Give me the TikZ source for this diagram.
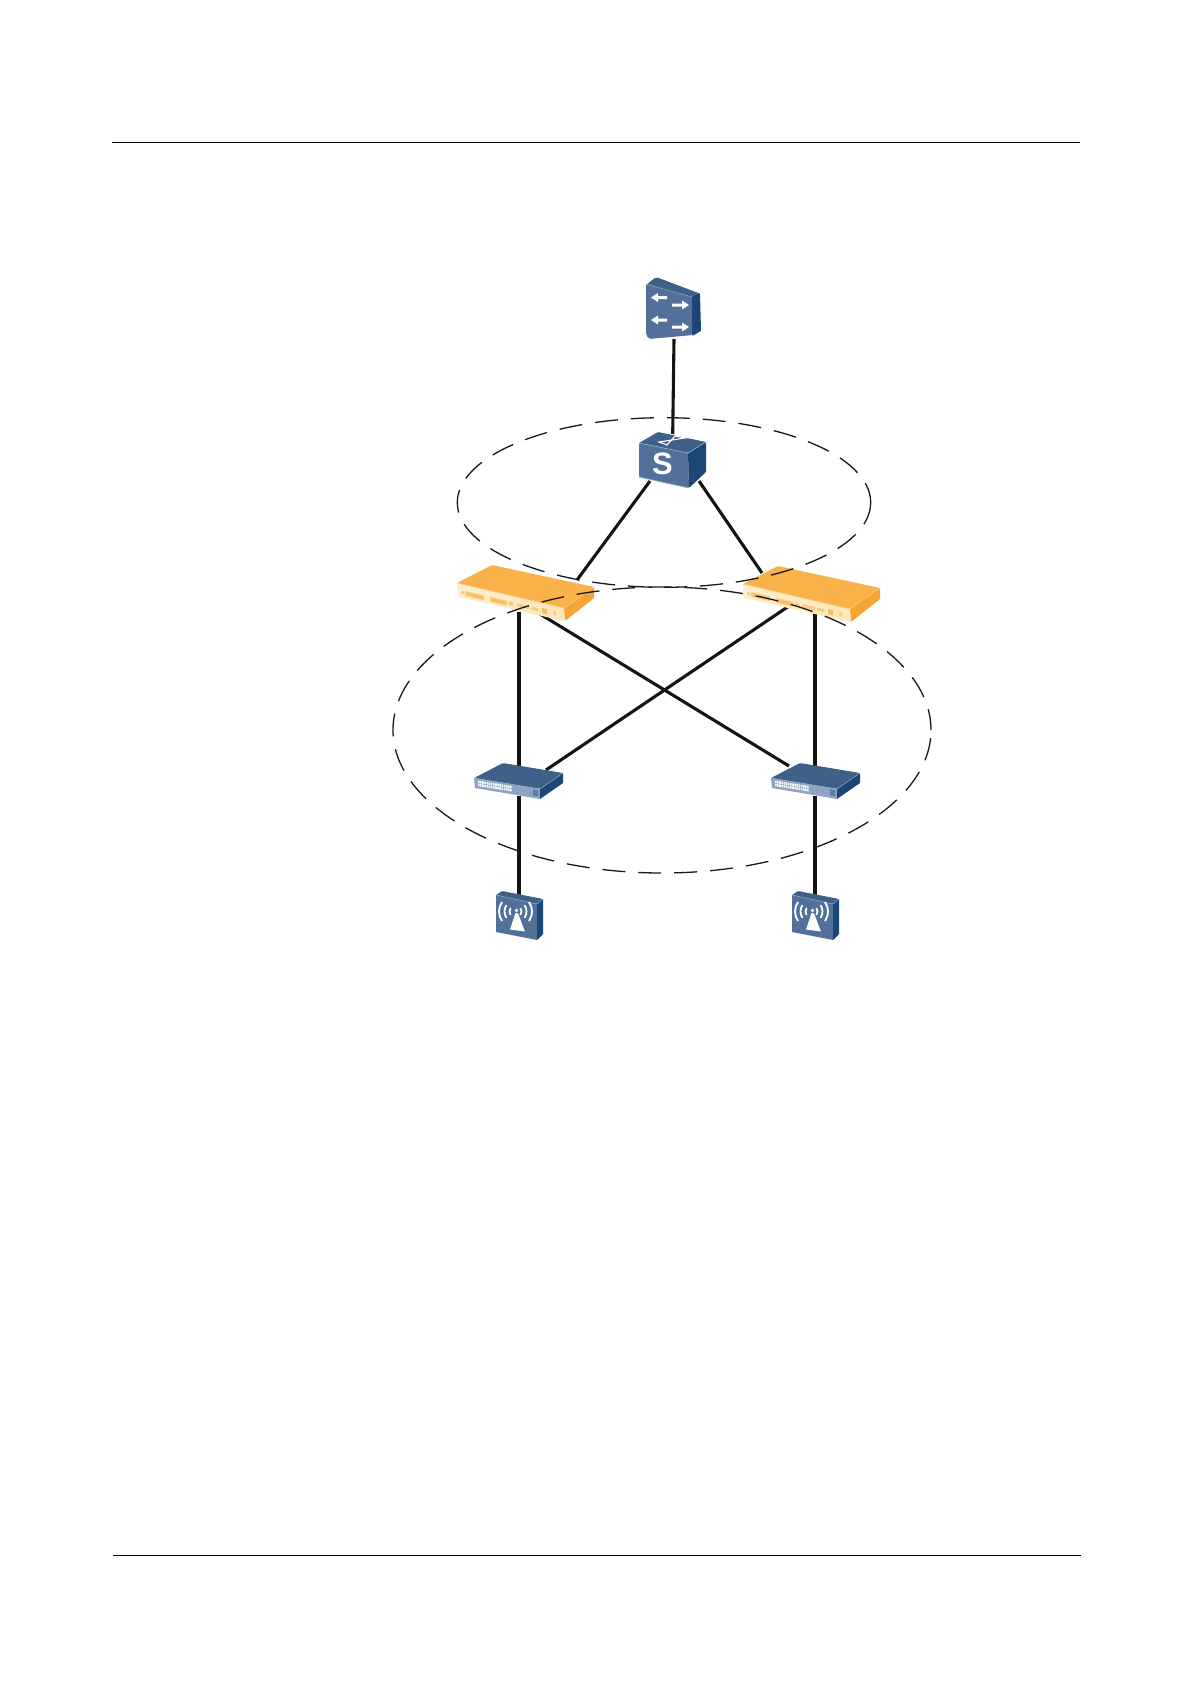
\documentclass[tikz,border=0pt]{standalone}
\usepackage{fontspec}
\setmainfont{Liberation Sans}
\definecolor{bfront}{HTML}{52709A}
\definecolor{btop}{HTML}{3F6089}
\definecolor{bside}{HTML}{1B4675}
\definecolor{bedge}{HTML}{8FA8C4}
\definecolor{otop}{HTML}{F9B149}
\definecolor{ofront}{HTML}{FEF0CE}
\definecolor{oside}{HTML}{F5A533}
\definecolor{oport}{HTML}{F9CB80}
\definecolor{sfront}{HTML}{8DA5C0}
\tikzset{
  rule/.style={line width=0.8pt,black},
  link/.style={line width=3.1pt,color=black!92,line cap=butt},
  zone/.style={line width=1.3pt,black!90},
  orouter/.pic={
    \fill[otop,rounded corners=1.5pt] (0,0) -- (35,-18) -- (137,4) -- (107,25) -- cycle;
    \shade[left color=ofront,right color=ofront!85!otop] (0,0) -- (107,25) -- (107,38) -- (1,14) -- cycle;
    \fill[oside,rounded corners=1pt] (107,25) -- (137,4) -- (137,15) -- (108,38) -- cycle;
    \draw[otop!75!white,line width=0.6pt] (0,0) -- (107,25) -- (137,4);
    \begin{scope}[yslant=-0.236]
      \fill[oport] (4,7) rectangle (7,10);
      \fill[oport] (8,6) rectangle (27,11);
      \fill[otop!85!ofront] (10,7.5) rectangle (25,9.5);
      \fill[oport] (33,6) rectangle (50,11);
      \fill[otop!85!ofront] (35,7.5) rectangle (48,9.5);
      \fill[oport] (52,6) rectangle (56,10);
      \fill[oport] (60,6) rectangle (72,9);
      \fill[oport] (74,6) rectangle (81,9);
      \fill[otop!85!ofront] (85,5) rectangle (90,10);
      \fill[oport] (96,5) rectangle (99,9);
    \end{scope}
  },
  bswitch/.pic={
    \fill[btop,rounded corners=1.5pt] (0,0) -- (29,-15) -- (89,-5) -- (66,11) -- cycle;
    \fill[sfront] (0,0) -- (66,11) -- (66,21) -- (1,10) -- cycle;
    \fill[bside] (66,11) -- (89,-5) -- (89,5) -- (66,21) -- cycle;
    \draw[bedge,line width=0.5pt] (0,0) -- (66,11) -- (89,-5);
    \begin{scope}[yslant=-0.16]
      \foreach \xx in {4,12.6,21.2,29.8} {
        \foreach \dd in {0,2.1,4.2,6.3} {
          \fill[white!90!sfront] (\xx+\dd,1.9) rectangle +(1.6,2.5);
          \fill[white!90!sfront] (\xx+\dd,5.0) rectangle +(1.6,2.5);
        }
      }
      \fill[bfront!80!sfront] (59,2) rectangle (64,8);
    \end{scope}
  },
  apdev/.pic={
    \fill[btop,rounded corners=1pt] (0,0) -- (6,-4) -- (47,4) -- (41,9) -- cycle;
    \fill[bfront] (0,0) -- (41,9) -- (41,45) -- (0,37) -- cycle;
    \fill[bside] (41,9) -- (47,4) -- (47,39) -- (41,45) -- cycle;
    \draw[bedge,line width=0.5pt] (0,0) -- (41,9) -- (47,4);
    \fill[white] (19.5,18) -- (22,18.5) -- (29,36.5) -- (14,34.5) -- cycle;
    \fill[white] (20.5,15.5) circle (1.8);
    \foreach \rr in {6,11,16.5} {
      \draw[white,line width=1.8pt] (19.5,16.5) ++(145:\rr) arc (145:215:\rr);
      \draw[white,line width=1.8pt] (19.5,16.5) ++(35:\rr) arc (35:-35:\rr);
    }
  }
}
\begin{document}
\begin{tikzpicture}[x=1pt,y=-1pt]
\useasboundingbox (0,0) rectangle (1191,1684);
\fill[white] (0,0) rectangle (1191,1684);
% page rules
\coordinate (hl) at (112,142.5); \coordinate (hr) at (1080,142.5);
\coordinate (fl) at (113,1555.5); \coordinate (fr) at (1081,1555.5);
\draw[rule] (hl) -- (hr);
\draw[rule] (fl) -- (fr);
% connector ends
\coordinate (coreS) at (674,339);
\coordinate (sTop) at (672.7,434);
\coordinate (sL) at (650,481);
\coordinate (sR) at (699,481);
\coordinate (rLtop) at (577,580);
\coordinate (rRtop) at (762,573);
\coordinate (rLv) at (519,612);
\coordinate (rRv) at (815,612);
\coordinate (rLx) at (540,614);
\coordinate (rRx) at (789,606);
\coordinate (swLv) at (519,767);
\coordinate (swRv) at (815,767);
\coordinate (swLx) at (546,770);
\coordinate (swRx) at (789,766);
\coordinate (swLd) at (519,796);
\coordinate (swRd) at (815,796);
\coordinate (apL) at (519,895);
\coordinate (apR) at (815,895);
% links
\draw[link] (coreS) -- (sTop);
\draw[link] (rLv) -- (swLv);
\draw[link] (rRv) -- (swRv);
\draw[link] (rLx) -- (swRx);
\draw[link] (rRx) -- (swLx);
\draw[link] (swLd) -- (apL);
\draw[link] (swRd) -- (apR);
% core device
\fill[btop,rounded corners=2pt] (646,285) -- (656,277) -- (701,294) -- (692,298) -- cycle;
\fill[bfront,rounded corners=2pt] (646,284) -- (646,335) -- (649,339) -- (693,335) -- (693,297) -- cycle;
\fill[bside,rounded corners=1pt] (692,297) -- (700,293) -- (701,331) -- (692,336) -- cycle;
\draw[bedge,line width=0.5pt] (646,284) -- (692,297);
\foreach \ya/\xa/\xb in {297.5/667/658,320/667/658} {
  \fill[white] (\xa,\ya-1.5) -- (\xb,\ya-1.5) -- (\xb,\ya-4.5) -- (\xb-7,\ya) -- (\xb,\ya+4.5) -- (\xb,\ya+1.5) -- (\xa,\ya+1.5) -- cycle;
}
\foreach \ya/\xa/\xb in {305/672/682,327/672/682} {
  \fill[white] (\xa,\ya-1.5) -- (\xb,\ya-1.5) -- (\xb,\ya-4.5) -- (\xb+7,\ya) -- (\xb,\ya+4.5) -- (\xb,\ya+1.5) -- (\xa,\ya+1.5) -- cycle;
}
% S switch
\fill[btop,rounded corners=1pt] (639,443) -- (658,432) -- (706,442) -- (688,453) -- cycle;
\fill[bfront,rounded corners=1pt] (639,443) -- (688,453) -- (689,488) -- (639,477) -- cycle;
\fill[bside,rounded corners=1pt] (688,453) -- (706,442) -- (706,472) -- (689,488) -- cycle;
\draw[bedge,line width=0.7pt] (639,443) -- (688,453) -- (706,442);
\draw[bedge,line width=0.7pt] (639,477) -- (689,488);
\draw[white,line width=1.1pt] (659,442) -- (667,445) -- (675,436) -- (685,438) -- cycle;
\node[inner sep=0pt,text=white,font=\bfseries\fontsize{31}{31}\selectfont] (sLabel) at (662.5,464) {S};
% routers
\pic at (457,583) {orouter};
\pic at (743,584) {orouter};
\draw[link] (sL) -- (rLtop);
\draw[link] (sR) -- (rRtop);
% access switches
\pic at (474,778) {bswitch};
\pic at (771,778) {bswitch};
% APs
\pic at (496,895) {apdev};
\pic at (792,895) {apdev};
% zones
\draw[zone,dash pattern=on 23pt off 13pt] (664,502.5) ellipse [x radius=206.7,y radius=84.8];
\draw[zone,dash pattern=on 23pt off 13pt,dash phase=28pt] (662,730) ellipse [x radius=269,y radius=143];
\end{tikzpicture}
\end{document}
